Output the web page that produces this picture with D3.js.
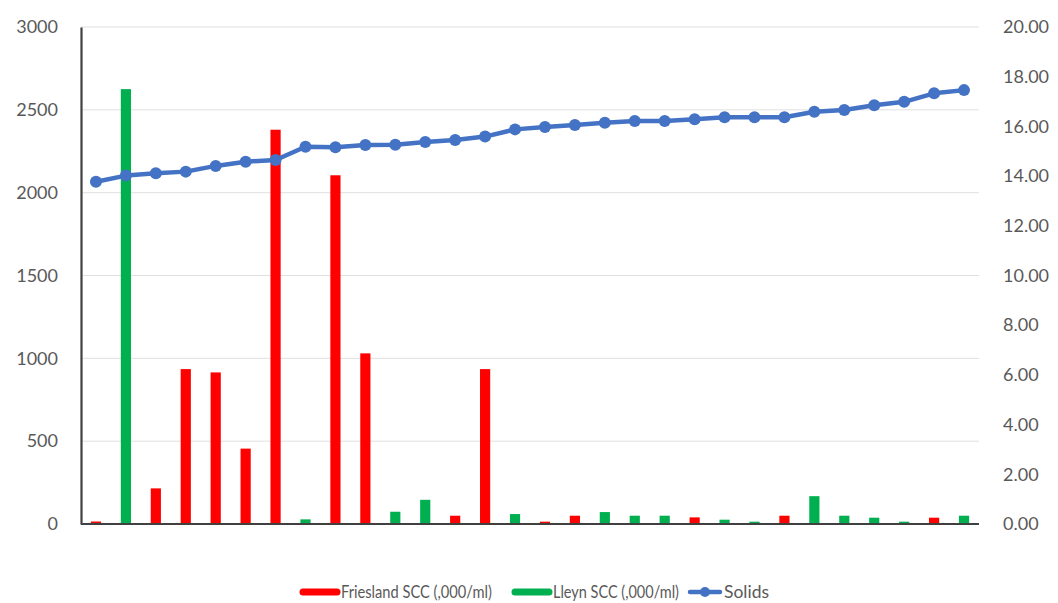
<!DOCTYPE html>
<html>
<head>
<meta charset="utf-8">
<script src="https://cdn.jsdelivr.net/npm/d3@7"></script>
<style>
  html, body { margin: 0; padding: 0; background: #fff; }
  svg { display: block; }
  text { font-family: Lato, "Open Sans", sans-serif; fill: #595959; }
</style>
</head>
<body>
<svg id="chart" width="1058" height="603"></svg>
<script>
// Samples, in order of increasing solids
const samples = d3.range(1, 31);

// Somatic cell count per sample (,000/ml); null where the breed was not sampled
const friesland = [15, null, 215, 935, 915, 455, 2380, null, 2105, 1030,
                   null, null, 50, 935, null, 14, 50, null, null, null,
                   40, null, null, 50, null, null, null, null, 38, null];
const lleyn     = [null, 2625, null, null, null, null, null, 28, null, null,
                   74, 146, null, null, 60, null, null, 72, 50, 50,
                   null, 26, 14, null, 168, 50, 38, 14, null, 50];

// Milk solids per sample
const solids = [13.77, 14.02, 14.11, 14.18, 14.41, 14.58, 14.65, 15.18, 15.16, 15.25,
                15.26, 15.37, 15.45, 15.59, 15.88, 15.98, 16.06, 16.15, 16.22, 16.22,
                16.29, 16.37, 16.37, 16.37, 16.59, 16.66, 16.85, 16.99, 17.33, 17.46];

const leftTicks = [0, 500, 1000, 1500, 2000, 2500, 3000];
const rightTicks = [0, 2, 4, 6, 8, 10, 12, 14, 16, 18, 20];

const seriesNames = ["Friesland SCC (,000/ml)", "Lleyn SCC (,000/ml)", "Solids"];
const colors = { friesland: "#FF0000", lleyn: "#00B050", solids: "#4472C4" };

const svg = d3.select("#chart");
const plot = { left: 81, right: 979, top: 27, bottom: 524 };

const x = d3.scaleBand().domain(samples).range([plot.left, plot.right]).paddingInner(0.66).paddingOuter(0.33);
const yL = d3.scaleLinear().domain([0, 3000]).range([plot.bottom, plot.top]);
const yR = d3.scaleLinear().domain([0, 20]).range([plot.bottom, plot.top]);

// Horizontal gridlines on the SCC scale
svg.append("g")
  .selectAll("line")
  .data(leftTicks.filter(d => d > 0))
  .join("line")
  .attr("x1", plot.left).attr("x2", plot.right)
  .attr("y1", d => yL(d)).attr("y2", d => yL(d))
  .attr("stroke", "#e0e0e0").attr("stroke-width", 1);

// Columns
function drawBars(values, color) {
  svg.append("g")
    .selectAll("rect")
    .data(samples.map((s, i) => ({ s, v: values[i] })).filter(d => d.v != null))
    .join("rect")
    .attr("x", d => x(d.s))
    .attr("width", x.bandwidth())
    .attr("y", d => yL(d.v))
    .attr("height", d => yL(0) - yL(d.v))
    .attr("fill", color);
}
drawBars(friesland, colors.friesland);
drawBars(lleyn, colors.lleyn);

// Left axis
const axL = svg.append("g").attr("transform", `translate(${plot.left},0)`)
  .call(d3.axisLeft(yL).tickValues(leftTicks).tickSize(0).tickPadding(23).tickFormat(d3.format("d")));
axL.select(".domain").attr("stroke", "#404040").attr("stroke-width", 2.2);
axL.selectAll("text").style("font-size", "18px").attr("fill", "#595959").style("font-family", "Lato, sans-serif");

// Right axis (labels only)
const axR = svg.append("g").attr("transform", `translate(${plot.right},0)`)
  .call(d3.axisRight(yR).tickValues(rightTicks).tickSize(0).tickPadding(24).tickFormat(d3.format(".2f")));
axR.select(".domain").remove();
axR.selectAll("text").style("font-size", "18px").attr("fill", "#595959").style("font-family", "Lato, sans-serif");

// Baseline
svg.append("line")
  .attr("x1", plot.left).attr("x2", plot.right)
  .attr("y1", yL(0)).attr("y2", yL(0))
  .attr("stroke", "#404040").attr("stroke-width", 2.2);

// Solids line with markers
const cx = s => x(s) + x.bandwidth() / 2;
svg.append("path")
  .datum(solids)
  .attr("fill", "none")
  .attr("stroke", colors.solids)
  .attr("stroke-width", 4.5)
  .attr("stroke-linejoin", "round")
  .attr("d", d3.line().x((d, i) => cx(samples[i])).y(d => yR(d)));
svg.append("g")
  .selectAll("circle")
  .data(solids)
  .join("circle")
  .attr("cx", (d, i) => cx(samples[i]))
  .attr("cy", d => yR(d))
  .attr("r", 6)
  .attr("fill", colors.solids);

// Legend
const legend = svg.append("g").attr("transform", "translate(0,592)");
const items = [
  { name: seriesNames[0], color: colors.friesland, x: 300, marker: false, len: 151 },
  { name: seriesNames[1], color: colors.lleyn, x: 512, marker: false, len: 126 },
  { name: seriesNames[2], color: colors.solids, x: 687, marker: true, len: 45 }
];
items.forEach(it => {
  const g = legend.append("g").attr("transform", `translate(${it.x},0)`);
  const w = it.marker ? 36 : 40;
  g.append("line").attr("x1", 3).attr("x2", w - 3).attr("y1", 0).attr("y2", 0)
    .attr("stroke", it.color).attr("stroke-width", it.marker ? 4.5 : 7).attr("stroke-linecap", "round");
  if (it.marker) g.append("circle").attr("cx", w / 2).attr("cy", 0).attr("r", 5).attr("fill", it.color);
  g.append("text").attr("x", w + 1).attr("y", 0).attr("dy", "0.35em")
    .style("font-size", "16.5px")
    .attr("textLength", it.len).attr("lengthAdjust", "spacingAndGlyphs")
    .text(it.name);
});
</script>
</body>
</html>
